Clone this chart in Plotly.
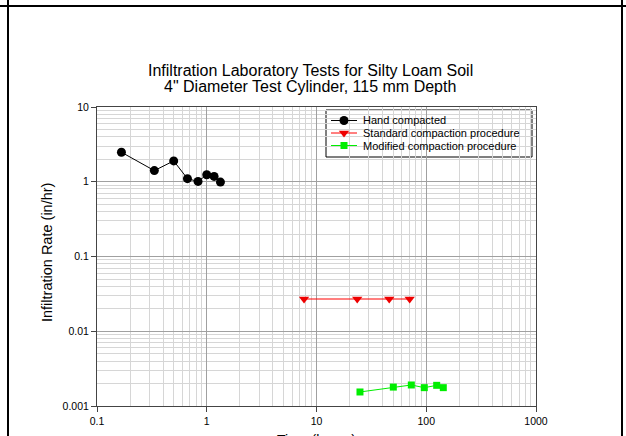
import plotly.graph_objects as go

# Data (time in hours, infiltration rate in in/hr)
hand_time = [0.167, 0.333, 0.5, 0.667, 0.833, 1.0, 1.167, 1.333]
hand_rate = [2.48, 1.41, 1.90, 1.10, 1.01, 1.24, 1.18, 0.99]

std_time = [7.7, 23.5, 46.0, 70.6]
std_rate = [0.027, 0.027, 0.027, 0.027]

mod_time = [24.9, 50.1, 73.1, 96.0, 124.5, 143.0]
mod_rate = [0.00154, 0.00179, 0.00191, 0.00176, 0.00189, 0.00176]

series_names = ["Hand compacted", "Standard compaction procedure", "Modified compaction procedure"]

x_ticks = [0.1, 1, 10, 100, 1000]
x_labels = ["0.1", "1", "10", "100", "1000"]
y_ticks = [0.001, 0.01, 0.1, 1, 10]
y_labels = ["0.001", "0.01", "0.1", "1", "10"]

FONT = "Liberation Sans, Arial, sans-serif"

styles = [
    dict(line=dict(color="black", width=1),
         marker=dict(symbol="circle", size=9, color="black")),
    dict(line=dict(color="#ff0000", width=1),
         marker=dict(symbol="triangle-down", size=9, color="#ee0000")),
    dict(line=dict(color="#00ee00", width=1),
         marker=dict(symbol="square", size=7, color="#00ee00")),
]

fig = go.Figure()
for (xs, ys), name, st in zip([(hand_time, hand_rate), (std_time, std_rate), (mod_time, mod_rate)],
                              series_names, styles):
    fig.add_trace(go.Scatter(x=xs, y=ys, mode="lines+markers", name=name,
                             showlegend=False, **st))

L, R, T, B = 97, 90, 107, 30
W, H = 626, 436
pw, ph = W - L - R, H - T - B
XR = [-1, 3]
YR = [-3, 1]

def px(xp):
    return (xp - L) / pw

def py(yp):
    return (H - B - yp) / ph

def xdata(xp):
    return 10 ** (XR[0] + (XR[1] - XR[0]) * px(xp))

def ydata(yp):
    return 10 ** (YR[0] + (YR[1] - YR[0]) * py(yp))

axis_common = dict(
    type="log",
    showline=True, linecolor="#444", linewidth=1, mirror=True,
    ticks="outside", ticklen=5, tickcolor="#444",
    showgrid=True, gridcolor="#a0a0a0", gridwidth=1,
    minor=dict(dtick="D1", showgrid=True, gridcolor="#d6d6d6", gridwidth=1, ticks=""),
    tickfont=dict(family=FONT, size=10.5, color="black"),
    zeroline=False, automargin=False,
)

fig.update_layout(
    width=W, height=H,
    margin=dict(l=L, r=R, t=T, b=B, autoexpand=False),
    paper_bgcolor="white", plot_bgcolor="white",
    font=dict(family=FONT, color="black"),
    showlegend=False,
    xaxis=dict(axis_common, range=XR, tickvals=x_ticks, ticktext=x_labels),
    yaxis=dict(axis_common, range=YR, tickvals=y_ticks, ticktext=y_labels),
    # pixel-space overlay used only for the legend key
    xaxis2=dict(overlaying="x", anchor="y2", range=[L, W - R], visible=False, fixedrange=True),
    yaxis2=dict(overlaying="y", anchor="x2", range=[H - B, T], visible=False, fixedrange=True),
)

# legend box and key
LEG_L, LEG_T, LEG_R, LEG_B = 326, 110, 532, 157
rows = [120.5, 133, 145.5]
fig.add_shape(type="rect", xref="x", yref="y",
              x0=xdata(LEG_L), x1=xdata(LEG_R), y0=ydata(LEG_T), y1=ydata(LEG_B),
              fillcolor="white", line=dict(color="black", width=1), layer="below")
for ry, name, st in zip(rows, series_names, styles):
    fig.add_trace(go.Scatter(x=[331, 357], y=[ry, ry], xaxis="x2", yaxis="y2",
                             mode="lines", line=st["line"], showlegend=False, hoverinfo="skip"))
    fig.add_trace(go.Scatter(x=[344], y=[ry], xaxis="x2", yaxis="y2",
                             mode="markers", marker=st["marker"], showlegend=False, hoverinfo="skip"))
    fig.add_annotation(x=px(361), y=py(ry), xref="paper", yref="paper", text=name, showarrow=False,
                       xanchor="left", yanchor="middle",
                       font=dict(family=FONT, size=11, color="black"))

fig.add_annotation(x=px(310), y=py(70), xref="paper", yref="paper",
                   text="Infiltration Laboratory Tests for Silty Loam Soil",
                   showarrow=False, font=dict(family=FONT, size=16, color="black"),
                   xanchor="center", yanchor="middle")
fig.add_annotation(x=px(310), y=py(86), xref="paper", yref="paper",
                   text="4\" Diameter Test Cylinder, 115 mm Depth",
                   showarrow=False, font=dict(family=FONT, size=16, color="black"),
                   xanchor="center", yanchor="middle")
fig.add_annotation(x=px(47), y=py(253), xref="paper", yref="paper",
                   text="Infiltration Rate (in/hr)", textangle=-90,
                   showarrow=False, font=dict(family=FONT, size=14.5, color="black"),
                   xanchor="center", yanchor="middle")
fig.add_annotation(x=px(316), y=py(440), xref="paper", yref="paper",
                   text="Time (hours)",
                   showarrow=False, font=dict(family=FONT, size=14, color="black"),
                   xanchor="center", yanchor="middle")

# page frame lines
fig.add_shape(type="line", xref="paper", yref="paper",
              x0=px(0), x1=px(626), y0=py(6), y1=py(6), line=dict(color="black", width=2))
fig.add_shape(type="line", xref="paper", yref="paper",
              x0=px(8), x1=px(8), y0=py(0), y1=py(436), line=dict(color="black", width=2))
fig.add_shape(type="line", xref="paper", yref="paper",
              x0=px(622), x1=px(622), y0=py(0), y1=py(436), line=dict(color="black", width=2))

fig.write_html("out.html")
